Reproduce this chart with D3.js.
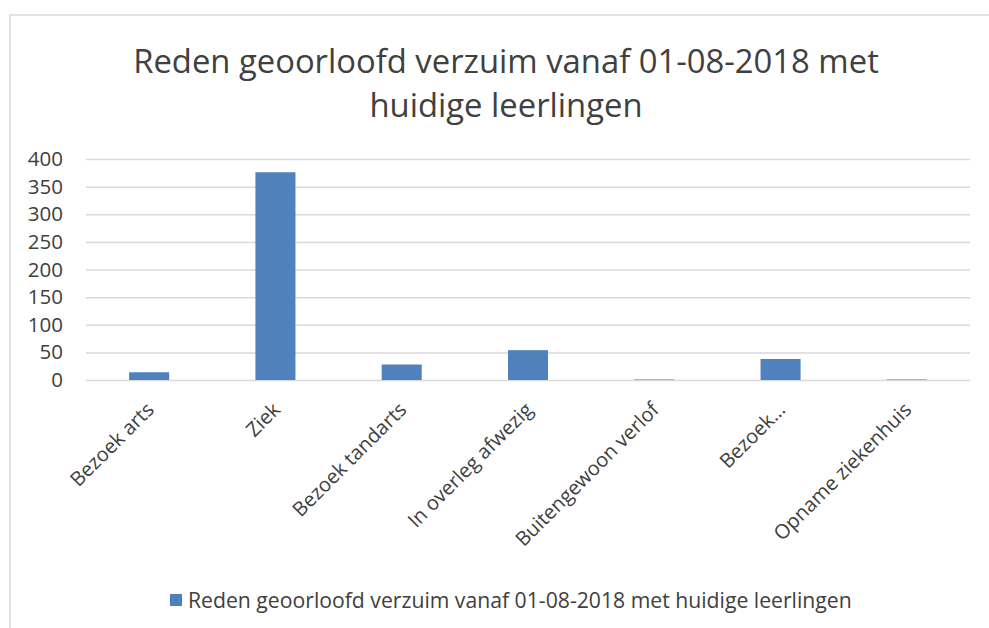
<!DOCTYPE html>
<html>
<head>
<meta charset="utf-8">
<script src="https://cdn.jsdelivr.net/npm/d3@7"></script>
<style>
  html, body { margin: 0; padding: 0; background: #fff; }
  svg { display: block; font-family: "Open Sans", sans-serif; }
</style>
</head>
<body>
<svg id="chart" width="989" height="628"></svg>
<script>
const categories = ["Bezoek arts", "Ziek", "Bezoek tandarts", "In overleg afwezig", "Buitengewoon verlof", "Bezoek…", "Opname ziekenhuis"];
const values = [14, 376, 28, 54, 1, 38, 1];
const yTicks = [0, 50, 100, 150, 200, 250, 300, 350, 400];
const titleLines = ["Reden geoorloofd verzuim vanaf 01-08-2018 met", "huidige leerlingen"];
const seriesName = "Reden geoorloofd verzuim vanaf 01-08-2018 met huidige leerlingen";

const svg = d3.select("#chart");
const W = 989, H = 628;
const margin = { left: 86, right: 19, top: 159, bottom: 248 };

// outer border
svg.append("path")
  .attr("d", `M10,${H} L10,15 L${W},15`)
  .attr("fill", "none")
  .attr("stroke", "#d9d9d9")
  .attr("stroke-width", 1.5);

// title
svg.append("g").selectAll("text").data(titleLines).join("text")
  .attr("x", 506)
  .attr("y", (d, i) => 73 + i * 44)
  .attr("text-anchor", "middle")
  .attr("font-size", 32.8)
  .attr("fill", "#404040")
  .text(d => d);

const x = d3.scaleBand().domain(categories).range([margin.left, W - margin.right]).paddingInner(0.683).paddingOuter(0.3415);
const y = d3.scaleLinear().domain([0, 400]).range([H - margin.bottom, margin.top]);

// gridlines
svg.append("g")
  .attr("transform", `translate(${margin.left},0)`)
  .call(d3.axisLeft(y).tickValues(yTicks).tickSize(-(W - margin.right - margin.left)).tickFormat(""))
  .call(g => g.select(".domain").remove())
  .call(g => g.selectAll("line").attr("stroke", "#d9d9d9").attr("stroke-width", 1.5));

// y labels
svg.append("g")
  .attr("transform", `translate(63,0)`)
  .call(d3.axisLeft(y).tickValues(yTicks).tickSize(0).tickPadding(0))
  .call(g => g.select(".domain").remove())
  .call(g => g.selectAll("text").attr("font-size", 20.5).attr("fill", "#404040").attr("font-family", "'Open Sans', sans-serif").attr("text-anchor", "end"));

// bars
svg.append("g").selectAll("rect").data(values).join("rect")
  .attr("x", (d, i) => x(categories[i]))
  .attr("width", x.bandwidth())
  .attr("y", d => y(d))
  .attr("height", d => y(0) - y(d))
  .attr("fill", "#4f81bd");

// x labels
svg.append("g").selectAll("text").data(categories).join("text")
  .attr("transform", d => `translate(${x(d) + x.bandwidth() / 2 + 6},${y(0) + 31}) rotate(-45)`)
  .attr("text-anchor", "end")
  .attr("font-size", 20)
  .attr("fill", "#404040")
  .text(d => d);

// legend
const lg = svg.append("g");
lg.append("rect").attr("x", 170).attr("y", 594).attr("width", 12).attr("height", 12).attr("fill", "#4f81bd");
lg.append("text").attr("x", 188).attr("y", 608).attr("font-size", 21.2).attr("fill", "#404040").text(seriesName);
</script>
</body>
</html>
